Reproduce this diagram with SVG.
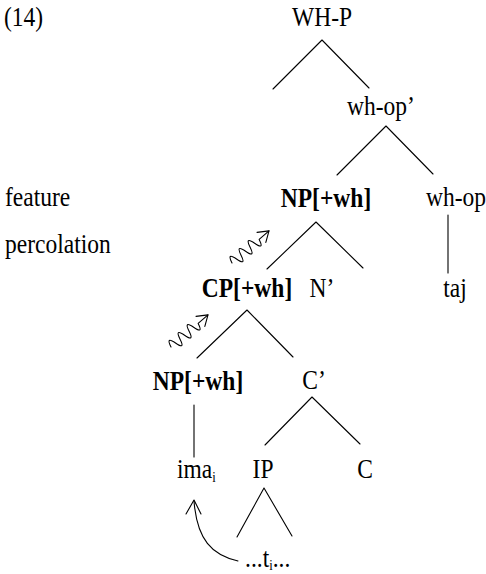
<svg xmlns="http://www.w3.org/2000/svg" width="486" height="574" viewBox="0 0 486 574">
  <style>
    .t { font-family: "Liberation Serif", "Times New Roman", serif; font-size: 28px; fill: #000; }
    .b { font-weight: bold; }
    .m { text-anchor: middle; }
    .s { text-anchor: start; }
    .ln { stroke: #000; stroke-width: 1.1; fill: none; stroke-linecap: round; stroke-linejoin: round; }
    .sub { font-size: 15px; }
  </style>
  <defs>
    <!-- squiggly arrow, drawn along +x from its tail, then tilted -->
    <g id="squiggle">
      <path class="ln" d="M0,0 q3,-12 6,0 t6,0 t6,0 t6,0 t6,0 t6,0 L49,0"/>
      <path class="ln" d="M39,-6.7 L49,0 L39,6.7"/>
    </g>
  </defs>

  <rect width="486" height="574" fill="#fff"/>

  <!-- labels at the left -->
  <g id="ex-number"><text class="t s" transform="translate(4,26) scale(0.84,1)">(14)</text></g>
  <g id="caption">
    <text class="t s" transform="translate(5,206) scale(0.84,1)">feature</text>
    <text class="t s" transform="translate(5,253) scale(0.84,1)">percolation</text>
  </g>

  <!-- tree nodes -->
  <g id="whp"><text class="t m" transform="translate(322,26) scale(0.84,1)">WH-P</text></g>
  <g id="whop-bar"><text class="t m" transform="translate(381,115) scale(0.84,1)">wh-op’</text></g>
  <g id="np-upper"><text class="t b m" transform="translate(326,207) scale(0.84,1)">NP[+wh]</text></g>
  <g id="whop"><text class="t m" transform="translate(456,206) scale(0.84,1)">wh-op</text></g>
  <g id="taj"><text class="t m" transform="translate(455,297) scale(0.84,1)">taj</text></g>
  <g id="cp"><text class="t b m" transform="translate(247,297) scale(0.84,1)">CP[+wh]</text></g>
  <g id="n-bar"><text class="t m" transform="translate(322,297) scale(0.84,1)">N’</text></g>
  <g id="np-lower"><text class="t b m" transform="translate(198,390) scale(0.84,1)">NP[+wh]</text></g>
  <g id="c-bar"><text class="t m" transform="translate(314,389) scale(0.84,1)">C’</text></g>
  <g id="ima"><text class="t s" transform="translate(177,478) scale(0.84,1)">ima<tspan class="sub" dy="4">i</tspan></text></g>
  <g id="ip"><text class="t m" transform="translate(263,478) scale(0.84,1)">IP</text></g>
  <g id="c"><text class="t m" transform="translate(365,478) scale(0.84,1)">C</text></g>
  <g id="trace"><text class="t s" transform="translate(245,567) scale(0.84,1)">...t<tspan class="sub" dy="3">i</tspan><tspan dy="-3">...</tspan></text></g>

  <!-- branches and arrows -->
  <g id="connectors">
    <path class="ln" d="M322,40 L273,89 M322,40 L369,88"/>
    <path class="ln" d="M386,126 L337,175 M386,126 L433,174"/>
    <path class="ln" d="M316,222 L267,269 M316,222 L363,268"/>
    <path class="ln" d="M448,215 L448,273"/>
    <path class="ln" d="M247,310 L197,358 M247,310 L293,357"/>
    <path class="ln" d="M312,397 L265,445 M312,397 L360,444"/>
    <path class="ln" d="M194,405 L194,457"/>
    <path class="ln" d="M264,488 L237,537 M264,488 L292,536"/>
    <!-- movement arrow from the trace up to ima -->
    <path class="ln" d="M238,561 C212,555 197,540 194,501"/>
    <path class="ln" d="M186,514 L194,500 L201,514"/>
    <!-- feature percolation squiggles -->
    <use href="#squiggle" transform="translate(171,347) rotate(-41)"/>
    <use href="#squiggle" transform="translate(232,263) rotate(-41)"/>
  </g>
</svg>
